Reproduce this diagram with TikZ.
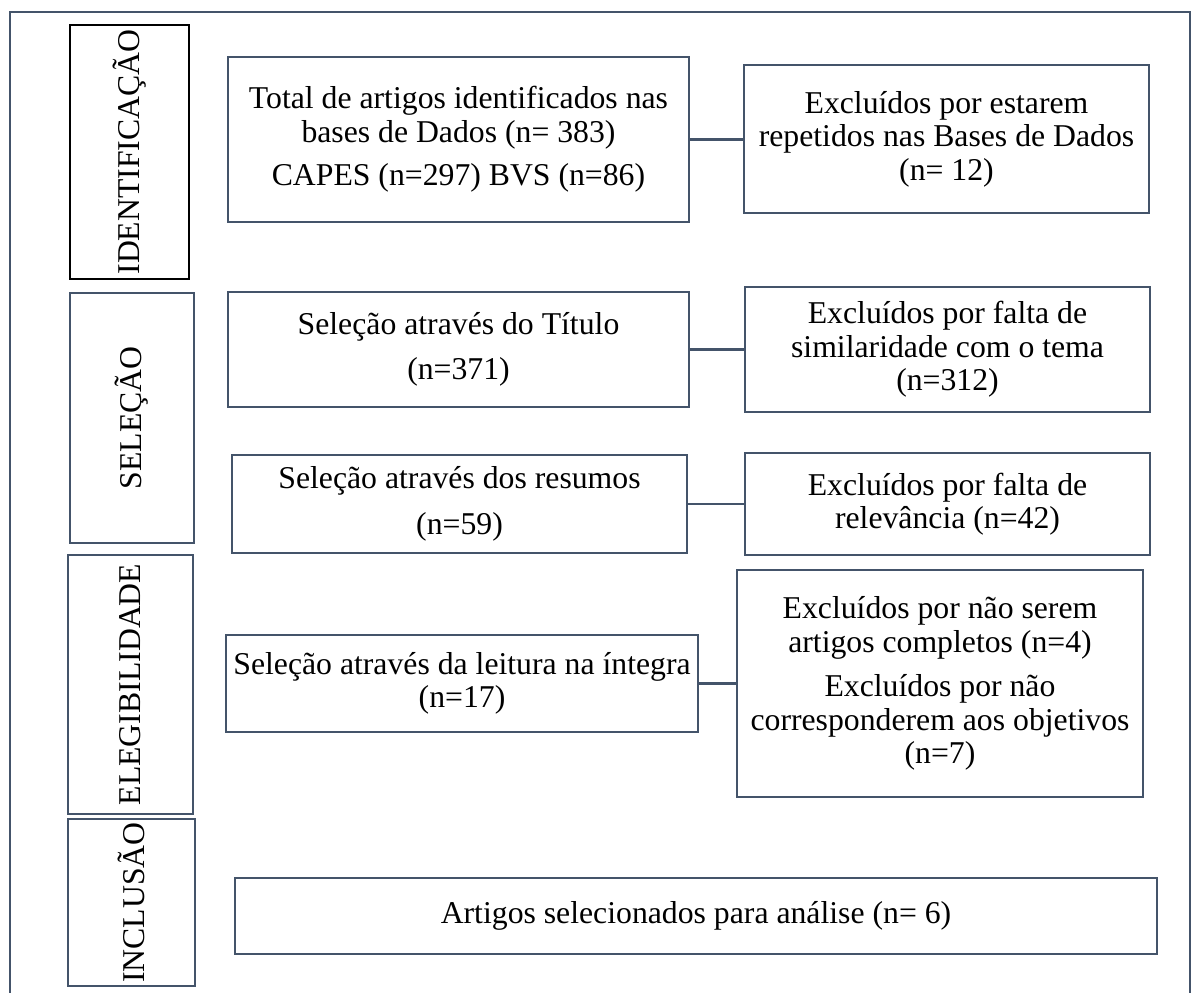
\documentclass[tikz,border=0pt]{standalone}
\usepackage{fontspec}
\setmainfont{Liberation Serif}
\definecolor{slate}{RGB}{68,84,106}

\tikzset{every picture/.style={line width=1.8pt}}
\tikzset{
  boxfont/.style={font=\fontsize{23.8}{25.2}\selectfont},
  stepbox/.style 2 args={draw=slate, boxfont, align=center, inner sep=0pt, outer sep=0pt,
    minimum width=#1*0.75pt, minimum height=#2*0.75pt},
  phasebox/.style 2 args={draw=slate, boxfont, rotate=90, inner sep=0pt, outer sep=0pt,
    minimum width=#2*0.75pt, minimum height=#1*0.75pt},
  link/.style={draw=slate}
}

\begin{document}
\begin{tikzpicture}[x=0.75pt,y=0.75pt,yscale=-1,xscale=1]
		\useasboundingbox (0,0) rectangle (1195,992);
		
		%outer frame
		\draw [slate] (10,995) -- (10,12) -- (1190,12) -- (1190,995) ;
		
		%phases
		\node [phasebox={119}{254}, draw=black] (ident) at (129.5,152) {IDENTIFICAÇÃO};
		\node [phasebox={124}{250}] (selec) at (132,418) {SELEÇÃO};
		\node [phasebox={125}{259}] (eleg) at (130.5,684.5) {ELEGIBILIDADE};
		\node [phasebox={127}{167}] (incl) at (131.5,902.5) {INCLUSÃO};
		
		%left column
		\node [stepbox={461}{165}] (total) at (458.5,139.5) {Total de artigos identificados nas\\bases de Dados (n= 383)\\[7.5pt]CAPES (n=297) BVS (n=86)};
		\node [stepbox={461}{115}] (titulo) at (458.5,349.5) {Seleção através do Título\\[9pt](n=371)};
		\node [stepbox={455}{98}] (resumo) at (459.5,504) {Seleção através dos resumos\\[9.5pt](n=59)};
		\node [stepbox={472}{97}] (integra) at (462,683.5) {Seleção através da leitura na íntegra\\(n=17)};
		\node [stepbox={922}{76}] (final) at (696,916) {Artigos selecionados para análise (n= 6)};
		
		%right column
		\node [stepbox={405}{148}] (repet) at (946.5,139) {Excluídos por estarem\\repetidos nas Bases de Dados\\(n= 12)};
		\node [stepbox={405}{125}] (tema) at (947.5,349.5) {Excluídos por falta de\\similaridade com o tema\\(n=312)};
		\node [stepbox={405}{102}] (relev) at (947.5,504) {Excluídos por falta de\\relevância (n=42)};
		\node [stepbox={406}{227}] (objet) at (940,683.5) {Excluídos por não serem\\artigos completos (n=4)\\[8pt]Excluídos por não\\corresponderem aos objetivos\\(n=7)};
		
		%connectors
		\draw [link] (total.east) -- (total.east -| repet.west) ;
		\draw [link] (titulo.east) -- (titulo.east -| tema.west) ;
		\draw [link] (resumo.east) -- (resumo.east -| relev.west) ;
		\draw [link] (integra.east) -- (integra.east -| objet.west) ;
		
\end{tikzpicture}
\end{document}
